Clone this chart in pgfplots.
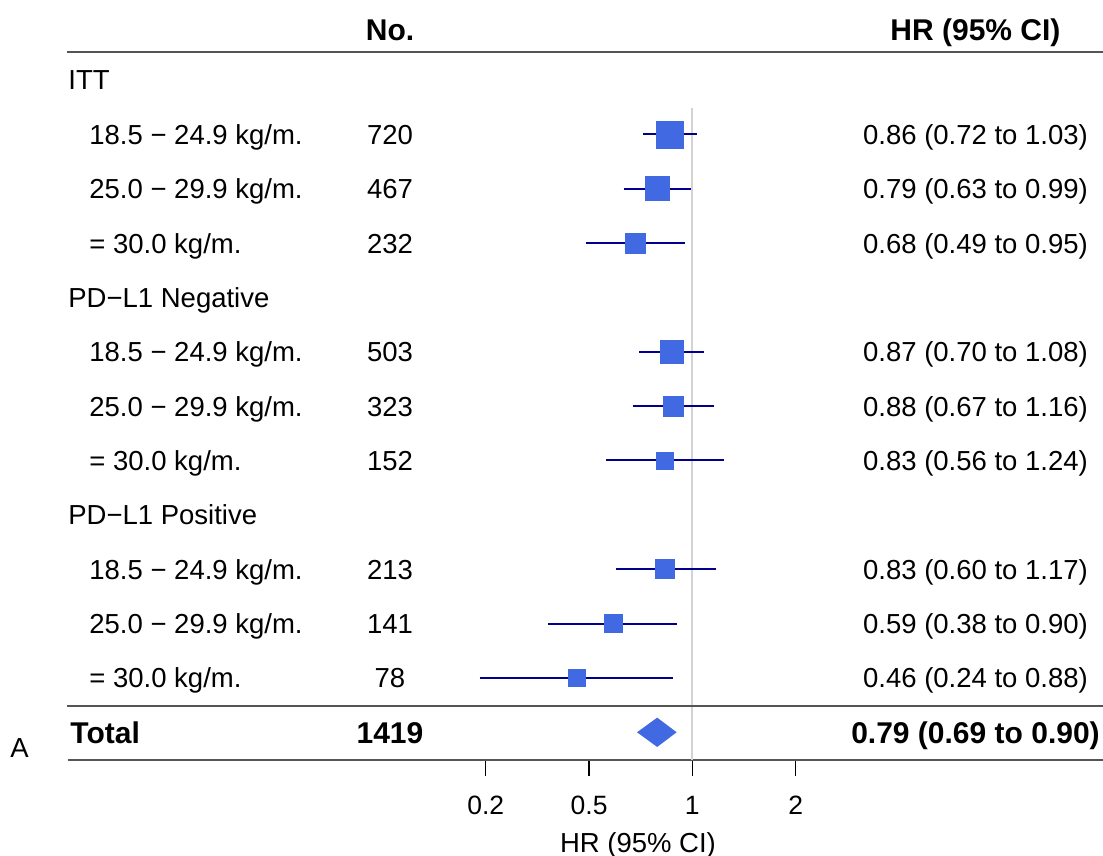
\documentclass[border=0pt]{standalone}
\usepackage{pgfplots}
\pgfplotsset{compat=1.18}
\usepackage{pgfplotstable}
\usepackage{fontspec}
\setmainfont{Liberation Sans}

\definecolor{boxblue}{RGB}{65,105,225}
\definecolor{cibar}{RGB}{0,0,139}
\definecolor{rulegray}{RGB}{85,85,85}
\definecolor{refgray}{RGB}{211,211,211}

% subgroup estimates: row (from the ITT heading), HR, lower, upper, box side (px)
\pgfplotstableread{
row hr   lo   hi   box
1   0.86 0.72 1.03 27
2   0.79 0.63 0.99 24
3   0.68 0.49 0.95 20
5   0.87 0.70 1.08 23
6   0.88 0.67 1.16 20
7   0.83 0.56 1.24 17
9   0.83 0.60 1.17 19
10  0.59 0.38 0.90 18
11  0.46 0.24 0.88 17
}\subgroups

\newcommand{\txt}{\fontsize{13.75}{16}\selectfont}
\newcommand{\btxt}{\fontsize{15}{17}\selectfont\bfseries}

\begin{document}
\begin{tikzpicture}[x=0.5pt,y=-0.5pt]
\path[use as bounding box] (0,0) rectangle (1103,856);

\begin{axis}[
  at={(34pt,-380pt)}, anchor=south west,
  scale only axis, width=517.5pt, height=354pt,
  xmode=log, log basis x=2,
  xmin=0.01515, xmax=15.73,
  ymin=-12.51, ymax=0.515,
  hide y axis,
  axis x line*=bottom,
  x axis line style={-, draw=rulegray, line width=1pt},
  xtick={0.25,0.5,1,2},
  xticklabels={0.2,0.5,1,2},
  minor xtick={},
  tick align=outside,
  major tick length=8pt,
  tick style={black, line width=0.7pt},
  xticklabel style={font=\fontsize{13.25}{15}\selectfont, yshift=-6.5pt},
  clip=false,
]
% line of no effect
\addplot[refgray, line width=1pt] coordinates {(1,-0.515) (1,-12.51)};

% confidence intervals
\addplot[cibar, line width=1pt] coordinates {(0.72,-1) (1.03,-1)};
\addplot[cibar, line width=1pt] coordinates {(0.63,-2) (0.99,-2)};
\addplot[cibar, line width=1pt] coordinates {(0.49,-3) (0.95,-3)};
\addplot[cibar, line width=1pt] coordinates {(0.70,-5) (1.08,-5)};
\addplot[cibar, line width=1pt] coordinates {(0.67,-6) (1.16,-6)};
\addplot[cibar, line width=1pt] coordinates {(0.56,-7) (1.24,-7)};
\addplot[cibar, line width=1pt] coordinates {(0.60,-9) (1.17,-9)};
\addplot[cibar, line width=1pt] coordinates {(0.38,-10) (0.90,-10)};
\addplot[cibar, line width=1pt] coordinates {(0.24,-11) (0.88,-11)};

% point estimates, box sized per subgroup
\addplot[scatter, only marks, mark=square*,
  scatter/use mapped color={draw=boxblue, fill=boxblue},
  mark options={line width=0.3pt},
  visualization depends on={\thisrow{box}/4 \as \halfside},
  scatter/@pre marker code/.append style={/tikz/mark size=\halfside pt}]
  table[x=hr, y expr=-\thisrow{row}] {\subgroups};

% pooled estimate
\addplot[fill=boxblue, draw=none] coordinates {(0.69,-12) (0.79,-11.73) (0.90,-12) (0.79,-12.27)} -- cycle;
\end{axis}

% table rules
\draw[rulegray, line width=1pt] (67,52) -- (1103,52);
\draw[rulegray, line width=1pt] (67,706) -- (1103,706);

% column headings
\node[anchor=base, inner sep=0pt] at (390,41) {\btxt No.};
\node[anchor=base, inner sep=0pt] at (975.5,41) {\btxt HR (95\% CI)};

% group headings
\node[anchor=base west, inner sep=0pt] at (68,{80+54.36*0+10}) {\txt ITT};
\node[anchor=base west, inner sep=0pt] at (68,{80+54.36*4+10}) {\txt PD−L1 Negative};
\node[anchor=base west, inner sep=0pt] at (68,{80+54.36*8+10}) {\txt PD−L1 Positive};

% subgroup rows
\foreach \r/\lab/\n/\est in {
  1/{18.5 − 24.9 kg/m.}/720/{0.86 (0.72 to 1.03)},
  2/{25.0 − 29.9 kg/m.}/467/{0.79 (0.63 to 0.99)},
  3/{= 30.0 kg/m.}/232/{0.68 (0.49 to 0.95)},
  5/{18.5 − 24.9 kg/m.}/503/{0.87 (0.70 to 1.08)},
  6/{25.0 − 29.9 kg/m.}/323/{0.88 (0.67 to 1.16)},
  7/{= 30.0 kg/m.}/152/{0.83 (0.56 to 1.24)},
  9/{18.5 − 24.9 kg/m.}/213/{0.83 (0.60 to 1.17)},
  10/{25.0 − 29.9 kg/m.}/141/{0.59 (0.38 to 0.90)},
  11/{= 30.0 kg/m.}/78/{0.46 (0.24 to 0.88)}}{
  \node[anchor=base west, inner sep=0pt] at (89,{80+54.36*\r+10}) {\txt \lab};
  \node[anchor=base, inner sep=0pt] at (390,{80+54.36*\r+10}) {\txt \n};
  \node[anchor=base, inner sep=0pt] at (975.5,{80+54.36*\r+10}) {\txt \est};
}

% total row
\node[anchor=base west, inner sep=0pt] at (70,{80+54.36*12+10.7}) {\btxt Total};
\node[anchor=base, inner sep=0pt] at (390,{80+54.36*12+10.7}) {\btxt 1419};
\node[anchor=base, inner sep=0pt] at (975.5,{80+54.36*12+10.7}) {\btxt 0.79 (0.69 to 0.90)};

% panel letter and axis title
\node[anchor=base west, inner sep=0pt] at (10,757) {\txt A};
\node[anchor=base, inner sep=0pt] at (638,852) {\txt HR (95\% CI)};
\end{tikzpicture}
\end{document}
